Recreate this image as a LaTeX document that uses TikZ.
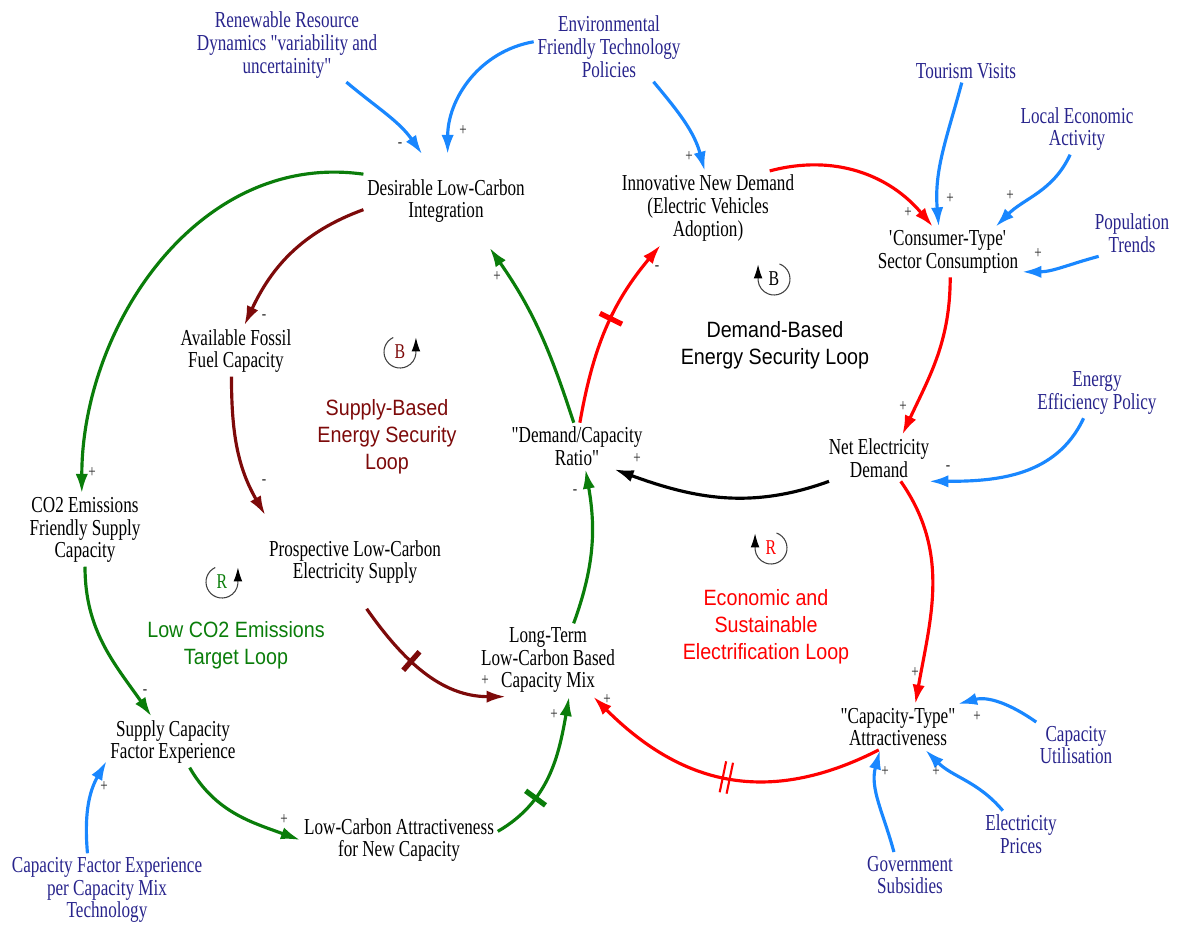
\documentclass[tikz,border=0pt]{standalone}
\usepackage{fontspec}
\setmainfont{Liberation Serif}[FakeStretch=0.75,Ligatures=TeXOff]
\setsansfont{Liberation Sans}[FakeStretch=0.89]
\usepackage{tikz}
\usetikzlibrary{arrows.meta,decorations.markings}
\definecolor{LinkBlue}{RGB}{25,135,255}
\definecolor{ExoNavy}{RGB}{40,36,140}
\definecolor{LoopGreen}{RGB}{10,125,10}
\definecolor{SupplyRed}{RGB}{125,10,10}
\definecolor{LinkRed}{RGB}{255,0,0}

\begin{document}
\begin{tikzpicture}[x=0.02cm,y=0.02cm,>={Latex[length=11pt,width=7pt]},
  var/.style={align=center,font=\fontsize{13}{13}\selectfont,inner sep=2pt},
  exo/.style={var,text=ExoNavy},
  looplbl/.style={align=center,font=\sffamily\fontsize{12.6}{15.5}\selectfont},
  pol/.style={font=\fontsize{10}{10}\selectfont,inner sep=0pt,text=black!85},
  lnk/.style={->,line width=1.8pt},
  lnkblue/.style={lnk,LinkBlue},
  lnkgreen/.style={lnk,LoopGreen},
  lnkdred/.style={lnk,SupplyRed},
  lnkred/.style={lnk,LinkRed},
  lnkblack/.style={lnk,black},
  loopmk/.style={line width=0.6pt,draw=black!75,-{Latex[length=8pt,width=5pt,color=black]}},
  looplet/.style={font=\fontsize{12}{12}\selectfont,inner sep=0pt},
  delaybar/.style={postaction={decorate,decoration={markings,
    mark=at position #1 with {\draw[-,line width=3pt] (0,-7pt) -- (0,7pt);}}}},
  delaypair/.style={postaction={decorate,decoration={markings,
    mark=at position #1 with {\draw[-,line width=1.2pt] (-2pt,-9pt) -- (-2pt,9pt) (2pt,-9pt) -- (2pt,9pt);}}}}]
  \useasboundingbox (0,0) rectangle (1180,-924);

  % outside variables
  \node[exo] (rrd) at (287,-45) {Renewable Resource\\Dynamics "variability and\\uncertainity"};
  \node[exo] (eftp) at (609,-47) {Environmental\\Friendly Technology\\Policies};
  \node[exo] (tour) at (966,-71) {Tourism Visits};
  \node[exo] (lea) at (1077,-129) {Local Economic\\Activity};
  \node[exo] (pop) at (1132,-233) {Population\\Trends};
  \node[exo] (eep) at (1097,-393) {Energy\\Efficiency Policy};
  \node[exo] (cu) at (1076,-745) {Capacity\\Utilisation};
  \node[exo] (ep) at (1021,-834) {Electricity\\Prices};
  \node[exo] (gs) at (910,-875) {Government\\Subsidies};
  \node[exo] (cfe) at (107,-890) {Capacity Factor Experience\\per Capacity Mix\\Technology};

  % loop variables
  \node[var,inner ysep=14pt] (dlci) at (446,-201) {Desirable Low-Carbon\\Integration};
  \node[var] (affc) at (236,-351) {Available Fossil\\Fuel Capacity};
  \node[var,inner ysep=14pt] (plces) at (355,-562) {Prospective Low-Carbon\\Electricity Supply};
  \node[var] (co2) at (85,-530) {CO2 Emissions\\Friendly Supply\\Capacity};
  \node[var] (scfe) at (173,-742) {Supply Capacity\\Factor Experience};
  \node[var] (lcanc) at (399,-840) {Low-Carbon Attractiveness\\for New Capacity};
  \node[var] (ltlc) at (548,-660) {Long-Term\\Low-Carbon Based\\Capacity Mix};
  \node[var] (dcr) at (577,-446) {"Demand/Capacity\\Ratio"};
  \node[var] (indev) at (708,-208) {Innovative New Demand\\(Electric Vehicles\\Adoption)};
  \node[var] (ctsc) at (948,-252) {\textquotesingle Consumer-Type\textquotesingle\\Sector Consumption};
  \node[var] (ned) at (879,-458) {Net Electricity\\Demand};
  \node[var] (cta) at (898,-727) {"Capacity-Type"\\Attractiveness};

  % loop names
  \node[looplbl,text=SupplyRed] (lblsup) at (387,-437) {Supply-Based\\Energy Security\\Loop};
  \node[looplbl] (lbldem) at (775,-345) {Demand-Based\\Energy Security Loop};
  \node[looplbl,text=LoopGreen] (lblco2) at (236,-645) {Low CO2 Emissions\\Target Loop};
  \node[looplbl,text=LinkRed] (lbleco) at (766,-627) {Economic and\\Sustainable\\Electrification Loop};

  % loop markers
  \coordinate (mkS) at (400,-352);
  \draw[loopmk] (mkS) ++(115:16) arc[start angle=115,end angle=355,radius=16] -- ++(0,16);
  \node[looplet,text=SupplyRed] (mkSl) at (mkS) {B};
  \coordinate (mkD) at (774,-279);
  \draw[loopmk] (mkD) ++(70:16) arc[start angle=70,end angle=-175,radius=16] -- ++(0,16);
  \node[looplet] (mkDl) at (mkD) {B};
  \coordinate (mkC) at (222,-582);
  \draw[loopmk] (mkC) ++(115:16) arc[start angle=115,end angle=355,radius=16] -- ++(0,16);
  \node[looplet,text=LoopGreen] (mkCl) at (mkC) {R};
  \coordinate (mkE) at (771,-548);
  \draw[loopmk] (mkE) ++(70:16) arc[start angle=70,end angle=-175,radius=16] -- ++(0,16);
  \node[looplet,text=LinkRed] (mkEl) at (mkE) {R};

  % outside links
  \draw[lnkblue] (rrd.-32) to[out=-40,in=125] (dlci.117);
  \draw[lnkblue] (eftp.176) to[out=190,in=90] (dlci.88);
  \draw[lnkblue] (eftp.-38) to[out=-50,in=105] (indev.95);
  \draw[lnkblue] (tour.-110) to[out=-105,in=95] (ctsc.110);
  \draw[lnkblue] (lea.-105) to[out=-115,in=45] (ctsc.28);
  \draw[lnkblue] (pop.215) to[out=195,in=0] (ctsc.-15);
  \draw[lnkblue] (eep.-118) to[out=-115,in=0] (ned.-25);
  \draw[lnkblue] (cu.150) to[out=145,in=15] (cta.21);
  \draw[lnkblue] (ep.128) to[out=130,in=-45] (cta.-40);
  \draw[lnkblue] (gs.125) to[out=105,in=-105] (cta.-128);
  \draw[lnkblue] (cfe.118) to[out=95,in=-120] (scfe.-164);

  % low CO2 loop
  \draw[lnkgreen] (dlci.162) to[out=172,in=90] (co2.95);
  \draw[lnkgreen] (co2.-90) to[out=-90,in=125] (scfe.130);
  \draw[lnkgreen] (scfe.-57) to[out=-60,in=160] (lcanc.180);
  \draw[lnkgreen,delaybar=0.32] (lcanc.5) to[out=30,in=-100] (ltlc.-60);
  \draw[lnkgreen] (ltlc.55) to[out=70,in=-80] (dcr.-70);
  \draw[lnkgreen] (dcr.98) to[out=108,in=-55] (dlci.-47);

  % supply loop
  \draw[lnkdred] (dlci.186) to[out=200,in=65] (affc.72);
  \draw[lnkdred] (affc.-100) to[out=-90,in=120] (plces.north west);
  \draw[lnkdred,delaybar=0.4] (plces.-76) to[out=-55,in=180] (ltlc.-139);

  % demand and electrification loops
  \draw[lnkred,delaybar=0.55] (dcr.83) to[out=80,in=-130] (indev.-142);
  \draw[lnkred] (indev.31) to[out=15,in=130] (ctsc.121);
  \draw[lnkred] (ctsc.-85) to[out=-90,in=65] (ned.45);
  \draw[lnkred] (ned.-47) to[out=-55,in=80] (cta.53);
  \draw[lnkred,delaypair=0.5] (cta.-130) to[out=207,in=-45,looseness=1.1] (ltlc.-39);
  \draw[lnkblack] (ned.-155) to[out=200,in=-20] (dcr.-32);

  % link signs
  \foreach \px/\py/\sg [count=\i] in {400/145/-, 463/131/+, 689/157/+, 950/199/+,
      1010/196/+, 1038/254/+, 908/213/+, 948/468/-, 903/407/+, 637/459/+,
      915/673/+, 977/717/+, 936/772/+, 885/772/+, 607/700/+, 657/268/-,
      497/277/+, 575/492/-, 554/715/+, 485/681/+, 284/820/+, 104/787/+,
      145/692/-, 92/473/+, 264/317/-, 264/482/-}
    \node[pol] (sg\i) at (\px,-\py) {\sg};
\end{tikzpicture}
\end{document}
